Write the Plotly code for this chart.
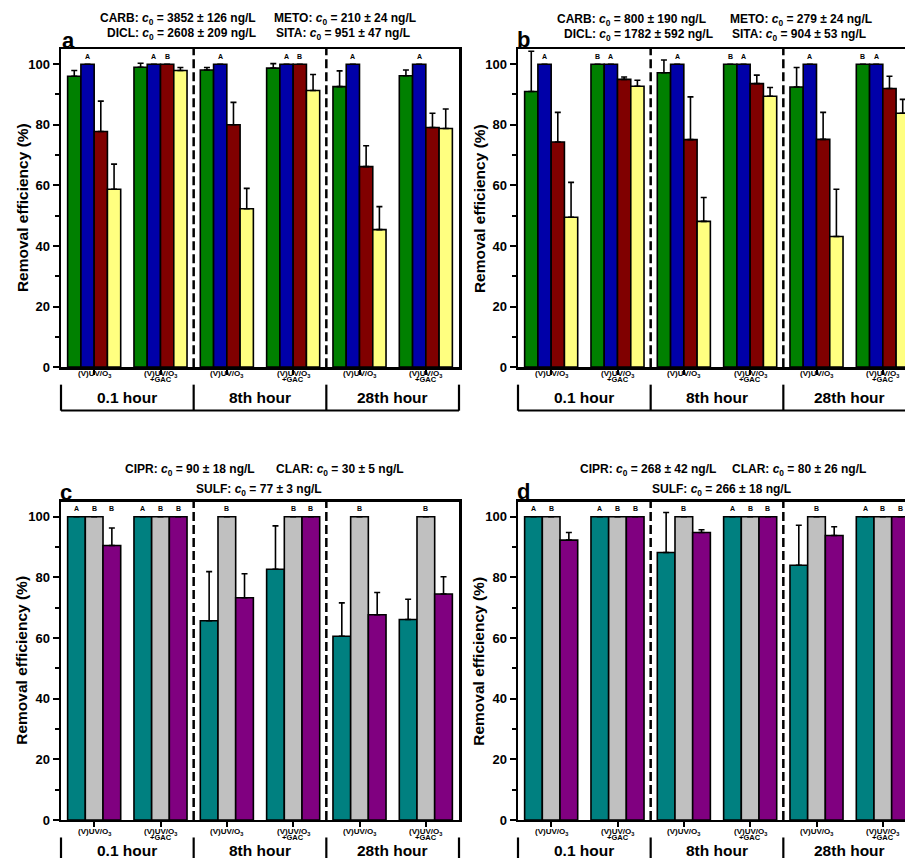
import plotly.graph_objects as go

# ---------------- data ----------------
groups = [0, 1, 2, 3, 4, 5]
treatment_line1 = ["(V)UV/O<sub>3</sub>"] * 6
treatment_line2 = ["", "+GAC", "", "+GAC", "", "+GAC"]
time_labels = ["0.1 hour", "8th hour", "28th hour"]
time_centers = [0.5, 2.5, 4.5]
y_ticks = [0, 20, 40, 60, 80, 100]

# Panel a
a_carb = [96.0, 99.0, 98.1, 98.7, 92.6, 96.2]
a_carb_err = [1.9, 1.3, 0.8, 1.5, 5.2, 1.9]
a_dicl = [100, 100, 100, 100, 100, 100]
a_dicl_err = [None] * 6
a_meto = [77.8, 100, 80.0, 100, 66.2, 79.1]
a_meto_err = [10.0, None, 7.4, None, 6.9, 4.7]
a_sita = [58.7, 97.9, 52.3, 91.3, 45.4, 78.8]
a_sita_err = [8.3, 1.0, 6.7, 5.3, 7.6, 6.4]
a_letters = [(0, 1, "A"), (1, 1, "A"), (1, 2, "B"), (2, 1, "A"), (3, 1, "A"), (3, 2, "B"),
             (4, 1, "A"), (5, 1, "A")]

# Panel b
b_carb = [91.0, 100, 97.2, 100, 92.5, 100]
b_carb_err = [13.3, None, 4.2, None, 6.4, None]
b_dicl = [100, 100, 100, 100, 100, 100]
b_dicl_err = [None] * 6
b_meto = [74.3, 95.0, 75.1, 93.6, 75.2, 92.0]
b_meto_err = [9.8, 0.8, 14.1, 2.8, 8.9, 4.0]
b_sita = [49.5, 92.7, 48.1, 89.4, 43.1, 83.8]
b_sita_err = [11.5, 2.0, 7.9, 2.9, 15.6, 4.6]
b_letters = [(0, 1, "A"), (1, 0, "B"), (1, 1, "A"), (2, 1, "A"), (3, 0, "B"), (3, 1, "A"),
             (4, 1, "A"), (5, 0, "B"), (5, 1, "A")]

# Panel c
c_cipr = [100, 100, 65.7, 82.7, 60.6, 66.1]
c_cipr_err = [None, None, 16.2, 14.3, 11.0, 6.7]
c_clar = [100, 100, 100, 100, 100, 100]
c_clar_err = [None] * 6
c_sulf = [90.5, 100, 73.3, 100, 67.7, 74.5]
c_sulf_err = [5.8, None, 7.9, None, 7.3, 5.7]
c_letters = [(0, 0, "A"), (0, 1, "B"), (0, 2, "B"), (1, 0, "A"), (1, 1, "B"), (1, 2, "B"),
             (2, 1, "B"), (3, 1, "B"), (3, 2, "B"), (4, 1, "B"), (5, 1, "B")]

# Panel d
d_cipr = [100, 100, 88.2, 100, 84.0, 100]
d_cipr_err = [None, None, 13.2, None, 13.2, None]
d_clar = [100, 100, 100, 100, 100, 100]
d_clar_err = [None] * 6
d_sulf = [92.3, 100, 94.8, 100, 93.8, 100]
d_sulf_err = [2.5, None, 0.9, None, 2.9, None]
d_letters = [(0, 0, "A"), (0, 1, "B"), (1, 0, "A"), (1, 1, "B"), (1, 2, "B"),
             (2, 1, "B"), (3, 0, "A"), (3, 1, "B"), (3, 2, "B"), (4, 1, "B"),
             (5, 0, "A"), (5, 1, "B"), (5, 2, "B")]

C0 = "<i>c</i><sub>0</sub>"
a_titles = [("CARB: " + C0 + " = 3852 ± 126 ng/L", 178, 19), ("METO: " + C0 + " = 210 ± 24 ng/L", 345, 19),
            ("DICL: " + C0 + " = 2608 ± 209 ng/L", 181, 34), ("SITA: " + C0 + " = 951 ± 47 ng/L", 343, 34)]
b_titles = [("CARB: " + C0 + " = 800 ± 190 ng/L", 631, 20), ("METO: " + C0 + " = 279 ± 24 ng/L", 801, 20),
            ("DICL: " + C0 + " = 1782 ± 592 ng/L", 638, 35), ("SITA: " + C0 + " = 904 ± 53 ng/L", 799, 35)]
c_titles = [("CIPR: " + C0 + " = 90 ± 18 ng/L", 190, 469), ("CLAR: " + C0 + " = 30 ± 5 ng/L", 340, 469),
            ("SULF: " + C0 + " = 77 ± 3 ng/L", 259, 489)]
d_titles = [("CIPR: " + C0 + " = 268 ± 42 ng/L", 648, 469), ("CLAR: " + C0 + " = 80 ± 26 ng/L", 799, 469),
            ("SULF: " + C0 + " = 266 ± 18 ng/L", 721, 489)]

GREEN, BLUE, RED, YELLOW = "#008000", "#0000A8", "#800000", "#FFFF80"
TEAL, GRAY, PURPLE = "#008080", "#C0C0C0", "#800080"

# ---------------- layout helpers ----------------
W, H = 905, 858          # target picture
H_PAGE = 867             # page height (photo is squeezed slightly in y)
FONT = "Liberation Sans"
UNIT = (459 - 61) / 6.0


def xp(px):
    return px / W


def yp(py):
    return 1 - py / H


panels = [
    dict(n="", label="a", left=61, top=49, bottom=366.7, lab_off=(7, 12.5), mirror=True,
         series=[("CARB", a_carb, a_carb_err, GREEN), ("DICL", a_dicl, a_dicl_err, BLUE),
                 ("METO", a_meto, a_meto_err, RED), ("SITA", a_sita, a_sita_err, YELLOW)],
         letters=a_letters, titles=a_titles, lab_pos=(68, 40)),
    dict(n="2", label="b", left=518, top=49, bottom=366.7, lab_off=(7, 12.5), mirror=False,
         series=[("CARB", b_carb, b_carb_err, GREEN), ("DICL", b_dicl, b_dicl_err, BLUE),
                 ("METO", b_meto, b_meto_err, RED), ("SITA", b_sita, b_sita_err, YELLOW)],
         letters=b_letters, titles=b_titles, lab_pos=(523, 39)),
    dict(n="3", label="c", left=61, top=501, bottom=819, lab_off=(12.5, 18), mirror=True,
         series=[("CIPR", c_cipr, c_cipr_err, TEAL), ("CLAR", c_clar, c_clar_err, GRAY),
                 ("SULF", c_sulf, c_sulf_err, PURPLE)],
         letters=c_letters, titles=c_titles, lab_pos=(66, 492)),
    dict(n="4", label="d", left=518, top=501, bottom=819, lab_off=(12.5, 18), mirror=False,
         series=[("CIPR", d_cipr, d_cipr_err, TEAL), ("CLAR", d_clar, d_clar_err, GRAY),
                 ("SULF", d_sulf, d_sulf_err, PURPLE)],
         letters=d_letters, titles=d_titles, lab_pos=(523, 491)),
]

fig = go.Figure()
annotations = []
shapes = []
layout_axes = {}

for p in panels:
    xa, ya = "x" + p["n"], "y" + p["n"]
    nser = len(p["series"])
    for name, vals, errs, col in p["series"]:
        fig.add_trace(go.Bar(
            x=groups, y=vals, name=name, xaxis=xa, yaxis=ya,
            marker=dict(color=col, line=dict(color="black", width=1.6)),
            error_y=dict(type="data", symmetric=False, array=errs, arrayminus=[0] * 6,
                         color="black", thickness=1.6, width=3),
            showlegend=False, hoverinfo="skip",
        ))
    left = p["left"]
    right_full = left + 6 * UNIT
    right_vis = min(right_full, W)
    xend = -0.5 + (right_vis - left) / UNIT
    layout_axes["xaxis" + p["n"]] = dict(
        domain=[xp(left), xp(right_vis)], range=[-0.5, xend], anchor=ya,
        showline=True, linecolor="black", linewidth=2.5, mirror=True,
        ticks="outside", tickvals=groups, ticklen=5, tickwidth=2, tickcolor="black",
        showticklabels=False, showgrid=False, zeroline=False, fixedrange=True)
    layout_axes["yaxis" + p["n"]] = dict(
        domain=[yp(p["bottom"]), yp(p["top"])], range=[0, 105], anchor=xa,
        showline=True, linecolor="black", linewidth=2.5, mirror=p["mirror"],
        ticks="outside", tickvals=y_ticks, ticklen=6, tickwidth=2, tickcolor="black",
        tickfont=dict(family=FONT, size=13, color="black", weight="bold"),
        minor=dict(ticks="outside", tickvals=[10, 30, 50, 70, 90], ticklen=3.5,
                   tickwidth=2, tickcolor="black"),
        showgrid=False, zeroline=False, fixedrange=True)

    # dashed separators between time sections
    for xs in (1.5, 3.5):
        shapes.append(dict(type="line", xref=xa, yref=ya + " domain", x0=xs, x1=xs, y0=0, y1=1,
                           line=dict(color="black", width=2.5, dash="9px,4px")))

    # bracket below axis
    b = p["bottom"]
    for k in range(4):
        sx = left + 2 * k * UNIT
        shapes.append(dict(type="line", xref="paper", yref="paper", x0=xp(sx), x1=xp(sx),
                           y0=yp(b + 17.5), y1=yp(b + 43.5), line=dict(color="black", width=2.2)))
    shapes.append(dict(type="line", xref="paper", yref="paper", x0=xp(left), x1=xp(right_full),
                       y0=yp(b + 43.3), y1=yp(b + 43.3), line=dict(color="black", width=2.2)))

    # treatment labels
    for g, l1, l2 in zip(groups, treatment_line1, treatment_line2):
        annotations.append(dict(x=g, xref=xa, y=yp(b + p["lab_off"][0]), yref="paper",
                                text=l1, showarrow=False, yanchor="middle",
                                font=dict(family=FONT, size=8, color="black", weight="bold")))
        if l2:
            annotations.append(dict(x=g, xref=xa, y=yp(b + p["lab_off"][1]), yref="paper",
                                    text=l2, showarrow=False, yanchor="middle",
                                    font=dict(family=FONT, size=7.5, color="black", weight="bold")))
    for tc, tl in zip(time_centers, time_labels):
        annotations.append(dict(x=tc, xref=xa, y=yp(b + 30.5), yref="paper", text=tl,
                                showarrow=False, yanchor="middle",
                                font=dict(family=FONT, size=15.5, color="black", weight="bold")))

    # significance letters
    bw = 0.8 / nser
    for g, bi, letter in p["letters"]:
        xoff = g - 0.4 + bw * (bi + 0.5)
        annotations.append(dict(x=xoff, xref=xa, y=102.6, yref=ya, text=letter, showarrow=False,
                                yanchor="middle",
                                font=dict(family=FONT, size=7, color="black", weight="bold")))

    # y-axis title
    annotations.append(dict(x=xp(left - 39), xref="paper", y=yp((p["top"] + b) / 2), yref="paper",
                            text="Removal efficiency (%)", textangle=-90, showarrow=False,
                            xanchor="center", yanchor="middle",
                            font=dict(family=FONT, size=15.5, color="black", weight="bold")))
    # titles
    for txt, cx, cy in p["titles"]:
        annotations.append(dict(x=xp(cx), xref="paper", y=yp(cy), yref="paper", text=txt,
                                showarrow=False, xanchor="center", yanchor="middle",
                                font=dict(family=FONT, size=12, color="black", weight="bold")))
    # panel letter
    annotations.append(dict(x=xp(p["lab_pos"][0]), xref="paper", y=yp(p["lab_pos"][1]), yref="paper",
                            text=p["label"], showarrow=False, xanchor="center", yanchor="middle",
                            font=dict(family=FONT, size=22, color="black", weight="bold")))

fig.update_layout(
    width=W, height=H_PAGE, margin=dict(l=0, r=0, t=0, b=0),
    paper_bgcolor="white", plot_bgcolor="white",
    barmode="group", bargap=0.2, bargroupgap=0,
    annotations=annotations, shapes=shapes,
    showlegend=False, hovermode=False,
)
fig.update_layout(**layout_axes)

page_fix = (
    "document.documentElement.style.margin='0';"
    "document.documentElement.style.overflow='hidden';"
    "document.body.style.margin='0';"
    "document.body.style.padding='0';"
    "document.body.style.overflow='hidden';"
)

fig.write_html("out.html", config={"displayModeBar": False, "staticPlot": True},
               post_script=page_fix)
